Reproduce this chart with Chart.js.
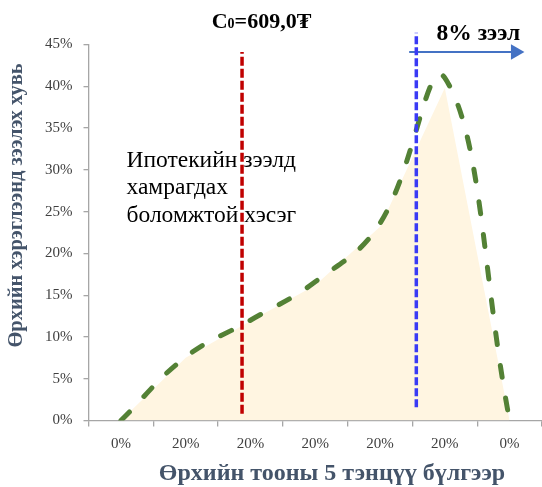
<!DOCTYPE html>
<html><head><meta charset="utf-8">
<script src="https://cdn.jsdelivr.net/npm/chart.js@4/dist/chart.umd.min.js"></script>
<style>html,body{margin:0;padding:0;background:#fff}#wrap{width:542px;height:487px;position:relative}canvas{display:block}</style>
</head><body><div id="wrap"><canvas id="c" width="542" height="487"></canvas></div>
<script>
// ---- data ----
const categories = ['0%', '20%', '20%', '20%', '20%', '20%', '0%'];
const areaValues = [0, 7.5, 11.9, 16.2, 23.2, 39.8, 0];
const lineValues = [0, 7.6, 12.0, 16.6, 23.6, 41.0, 0];
const yMin = 0, yMax = 45, yStep = 5;
const c0LineX = [1.87, 1.87];
const c0LineY = [0.8, 44.1];
const loanLineX = [4.56, 4.56];
const loanLineY = [1.6, 46.4];
const arrowX = [4.45, 6.09];
const arrowY = [44.1, 44.1];
const titleMain = 'C', titleSub = '0', titleRest = '=609,0₮';
const loanLabel = '8% зээл';
const noteLines = ['Ипотекийн зээлд', 'хамрагдах', 'боломжтой хэсэг'];
const xTitle = 'Өрхийн тооны 5 тэнцүү бүлгээр';
const yTitle = 'Өрхийн хэрэглээнд зээлэх хувь';

const SERIF = '"Liberation Serif", "DejaVu Serif", serif';
const pts = (xs, ys) => xs.map((x, i) => ({x, y: ys[i]}));

const textPlugin = {
  id: 'texts',
  beforeDatasetsDraw(chart) {
    const ctx = chart.ctx;
    ctx.save();
    ctx.fillStyle = '#000';
    ctx.textBaseline = 'alphabetic';
    ctx.textAlign = 'left';
    ctx.font = '23.5px ' + SERIF;
    noteLines.forEach((t, i) => ctx.fillText(t, 126.5, 166.5 + i * 27.8));
    ctx.restore();
  },
  afterDraw(chart) {
    const ctx = chart.ctx;
    ctx.save();
    ctx.fillStyle = '#000';
    ctx.textBaseline = 'alphabetic';
    ctx.textAlign = 'left';
    const big = 'bold 22px ' + SERIF, small = 'bold 14px ' + SERIF;
    ctx.font = big; const w1 = ctx.measureText(titleMain).width;
    const w3 = ctx.measureText(titleRest).width;
    ctx.font = small; const w2 = ctx.measureText(titleSub).width;
    let x = 261.5 - (w1 + w2 + w3) / 2;
    ctx.font = big; ctx.fillText(titleMain, x, 28); x += w1;
    ctx.font = small; ctx.fillText(titleSub, x, 28); x += w2;
    ctx.font = big; ctx.fillText(titleRest, x, 28);
    ctx.font = 'bold 23.5px ' + SERIF;
    ctx.fillText(loanLabel, 436.5, 40);
    ctx.fillStyle = '#44546A';
    ctx.font = 'bold 24px ' + SERIF;
    ctx.textAlign = 'center';
    ctx.fillText(xTitle, 332, 480);
    ctx.translate(22, 205.5);
    ctx.rotate(-Math.PI / 2);
    ctx.font = 'bold 20.5px ' + SERIF;
    ctx.fillText(yTitle, 0, 0);
    ctx.restore();
  }
};

new Chart(document.getElementById('c'), {
  type: 'line',
  data: {
    labels: categories,
    datasets: [
      {
        data: pts(loanLineX, loanLineY), xAxisID: 'xv',
        borderColor: '#3A3AF5', borderWidth: 3.5, borderDash: [8, 3],
        pointRadius: 0, fill: false, clip: false
      },
      {
        data: pts(c0LineX, c0LineY), xAxisID: 'xv',
        borderColor: '#C00000', borderWidth: 3.5, borderDash: [9, 3],
        pointRadius: 0, fill: false, clip: false
      },
      {
        data: pts(arrowX, arrowY), xAxisID: 'xv',
        borderColor: '#4472C4', borderWidth: 1.8,
        pointRadius: [0, 9], pointHoverRadius: 0, pointStyle: 'triangle', pointRotation: 90,
        pointBackgroundColor: '#4472C4', pointBorderColor: '#4472C4', pointBorderWidth: 0,
        fill: false, clip: false
      },
      {
        data: lineValues,
        borderColor: '#538135', borderWidth: 5, borderDash: [12, 21],
        borderCapStyle: 'round', tension: 0.42, pointRadius: 0, fill: false
      },
      {
        data: areaValues,
        borderWidth: 0, borderColor: 'rgba(0,0,0,0)',
        backgroundColor: '#FFF5E1', fill: 'origin', tension: 0, pointRadius: 0
      }
    ]
  },
  options: {
    responsive: false, animation: false, devicePixelRatio: 1,
    layout: { autoPadding: false, padding: { left: 0, right: 0, top: 44.5, bottom: 0 } },
    plugins: { legend: { display: false }, tooltip: { enabled: false }, title: { display: false } },
    scales: {
      x: {
        type: 'category', offset: true,
        grid: { display: true, drawOnChartArea: false, offset: true, tickLength: 6, color: '#A6A6A6', lineWidth: 1.3 },
        border: { display: true, color: '#A6A6A6', width: 1.3 },
        ticks: { font: { family: SERIF, size: 15 }, color: '#404040', padding: 9, maxRotation: 0, autoSkip: false },
        afterFit(s) { s.height = 66.5; s.paddingLeft = 0; s.paddingRight = 0; }
      },
      xv: { type: 'linear', display: false, min: -0.5, max: 6.5 },
      y: {
        min: yMin, max: yMax,
        grid: { display: true, drawOnChartArea: false, tickLength: 5, color: '#A6A6A6', lineWidth: 1.3 },
        border: { display: true, color: '#A6A6A6', width: 1.3 },
        ticks: { stepSize: yStep, font: { family: SERIF, size: 15 }, color: '#404040', padding: 11,
                 callback: v => v + '%' },
        afterFit(s) { s.width = 88.5; }
      }
    }
  },
  plugins: [textPlugin]
});
</script></body></html>
